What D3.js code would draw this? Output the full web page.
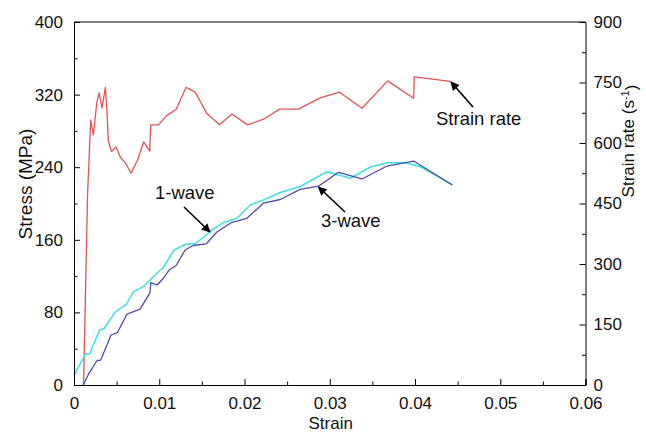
<!DOCTYPE html>
<html>
<head>
<meta charset="utf-8">
<script src="https://cdn.jsdelivr.net/npm/d3@7/dist/d3.min.js"></script>
<style>
  html, body { margin: 0; padding: 0; background: #fff; }
  svg { display: block; font-family: "Liberation Sans", Arial, Helvetica, sans-serif; }
</style>
</head>
<body>
<svg id="chart" width="646" height="433"></svg>
<script>
// Strain rate history (right axis, s^-1) versus strain
const strainRateStrain = [0.00112, 0.00159, 0.00196, 0.00227, 0.00267, 0.00294, 0.00329, 0.00368, 0.00387, 0.00403,
  0.0044, 0.00493, 0.00546, 0.00605, 0.00669, 0.00746, 0.00818, 0.00889, 0.009, 0.00992,
  0.01092, 0.01198, 0.01315, 0.01421, 0.01556, 0.01706, 0.01852, 0.02037, 0.02223, 0.0241,
  0.02634, 0.02888, 0.03115, 0.03378, 0.03679, 0.03984, 0.03992, 0.04415];
const strainRateValues = [0, 471, 657, 620, 699, 724, 687, 738, 679, 605,
  579, 590, 564, 550, 525, 558, 603, 580, 645, 645,
  669, 683, 738, 726, 674, 645, 672, 645, 659, 684,
  684, 712, 726, 686, 754, 711, 764, 753];

// 1-wave stress-strain curve (left axis, MPa)
const oneWaveStrain = [0, 0.00135, 0.00182, 0.003, 0.00352, 0.00487, 0.00611, 0.00699, 0.00816, 0.00916,
  0.01045, 0.01174, 0.01303, 0.01421, 0.01518, 0.01617, 0.01753, 0.01911, 0.02066, 0.02223,
  0.02419, 0.02654, 0.02967, 0.03241, 0.03476, 0.03672, 0.03887, 0.04063, 0.04259, 0.04438];
const oneWaveStress = [11.0, 34.2, 34.2, 60.6, 62.3, 80.8, 88.7, 102.8, 108.5, 117.9,
  129.5, 148.8, 154.8, 155.9, 162.8, 170.8, 178.8, 183.7, 198.3, 203.9,
  212.1, 218.7, 235.0, 227.8, 240.2, 245.0, 245.0, 240.5, 230.3, 220.4];

// 3-wave stress-strain curve (left axis, MPa)
const threeWaveStrain = [0.00109, 0.00176, 0.0027, 0.00314, 0.00434, 0.00508, 0.00622, 0.00775, 0.00892, 0.009,
  0.00975, 0.01051, 0.01115, 0.01198, 0.01303, 0.01397, 0.0155, 0.01676, 0.01843, 0.02028,
  0.02223, 0.02419, 0.02654, 0.02868, 0.03103, 0.03378, 0.03672, 0.03887, 0.03984, 0.04438];
const threeWaveStress = [0, 12.9, 27.0, 27.5, 55.1, 57.6, 78.2, 83.7, 101.7, 112.7,
  110.2, 117.9, 126.7, 131.7, 148.8, 153.7, 155.4, 168.6, 178.8, 183.7,
  200.5, 204.4, 215.6, 219.1, 234.4, 227.0, 241.3, 245.0, 246.8, 220.4];

// Axis ticks
const strainTicks = [0, 0.01, 0.02, 0.03, 0.04, 0.05, 0.06];
const strainMinorTicks = [0.005, 0.015, 0.025, 0.035, 0.045, 0.055];
const stressTicks = [0, 80, 160, 240, 320, 400];
const stressMinorTicks = [40, 120, 200, 280, 360];
const rateTicks = [0, 150, 300, 450, 600, 750, 900];
const rateMinorTicks = [75, 225, 375, 525, 675, 825];

const svg = d3.select("#chart");
const plotLeft = 74, plotRight = 585.5, plotTop = 22, plotBottom = 385;

const x = d3.scaleLinear().domain([0, 0.06]).range([plotLeft, plotRight]);
const yStress = d3.scaleLinear().domain([0, 400]).range([plotBottom, plotTop]);
const yRate = d3.scaleLinear().domain([0, 900]).range([plotBottom, plotTop]);

const tickFont = "17px";

// Arrowhead marker
svg.append("defs").append("marker")
  .attr("id", "head")
  .attr("viewBox", "0 0 10 10")
  .attr("refX", 9).attr("refY", 5)
  .attr("markerWidth", 9).attr("markerHeight", 9)
  .attr("markerUnits", "userSpaceOnUse")
  .attr("orient", "auto")
  .append("path").attr("d", "M0,0 L10,5 L0,10 Z").attr("fill", "#000");

// Series lines
const pairs = (xs, ys) => xs.map((v, i) => [v, ys[i]]);

svg.append("path")
  .datum(pairs(strainRateStrain, strainRateValues))
  .attr("fill", "none").attr("stroke", "#e25454").attr("stroke-width", 1.3)
  .attr("stroke-linejoin", "round")
  .attr("d", d3.line().x(d => x(d[0])).y(d => yRate(d[1])));

svg.append("path")
  .datum(pairs(oneWaveStrain, oneWaveStress))
  .attr("fill", "none").attr("stroke", "#3fe0e2").attr("stroke-width", 1.5)
  .attr("stroke-linejoin", "round")
  .attr("d", d3.line().x(d => x(d[0])).y(d => yStress(d[1])));

svg.append("path")
  .datum(pairs(threeWaveStrain, threeWaveStress))
  .attr("fill", "none").attr("stroke", "#4f4caa").attr("stroke-width", 1.3)
  .attr("stroke-linejoin", "round")
  .attr("d", d3.line().x(d => x(d[0])).y(d => yStress(d[1])));

// Frame
svg.append("line").attr("x1", plotLeft).attr("x2", plotRight).attr("y1", plotTop).attr("y2", plotTop)
  .attr("stroke", "#000").attr("stroke-width", 1);

function styleAxis(g) {
  g.select(".domain").attr("stroke", "#000").attr("stroke-width", 1);
  g.selectAll(".tick line").attr("stroke", "#000");
  g.selectAll("text").attr("font-size", tickFont).attr("fill", "#111")
    .attr("font-family", "'Liberation Sans', Arial, sans-serif");
}

// Bottom axis (inward ticks)
svg.append("g").attr("transform", `translate(0,${plotBottom})`)
  .call(d3.axisBottom(x).tickValues(strainTicks).tickSize(-6).tickPadding(12)
    .tickFormat(d => d === 0 ? "0" : d.toFixed(2)))
  .call(styleAxis);
svg.append("g").attr("transform", `translate(0,${plotBottom})`)
  .call(d3.axisBottom(x).tickValues(strainMinorTicks).tickSize(-3.5).tickFormat(""))
  .call(g => g.select(".domain").remove())
  .call(g => g.selectAll(".tick line").attr("stroke", "#000"));

// Left axis
svg.append("g").attr("transform", `translate(${plotLeft},0)`)
  .call(d3.axisLeft(yStress).tickValues(stressTicks).tickSize(-6).tickPadding(11))
  .call(styleAxis);
svg.append("g").attr("transform", `translate(${plotLeft},0)`)
  .call(d3.axisLeft(yStress).tickValues(stressMinorTicks).tickSize(-3.5).tickFormat(""))
  .call(g => g.select(".domain").remove())
  .call(g => g.selectAll(".tick line").attr("stroke", "#000"));

// Right axis
svg.append("g").attr("transform", `translate(${plotRight},0)`)
  .call(d3.axisRight(yRate).tickValues(rateTicks).tickSize(-6).tickPadding(8))
  .call(styleAxis);
svg.append("g").attr("transform", `translate(${plotRight},0)`)
  .call(d3.axisRight(yRate).tickValues(rateMinorTicks).tickSize(-3.5).tickFormat(""))
  .call(g => g.select(".domain").remove())
  .call(g => g.selectAll(".tick line").attr("stroke", "#000"));

// Axis titles
svg.append("text").attr("x", (plotLeft + plotRight) / 2 + 1).attr("y", 429)
  .attr("text-anchor", "middle").attr("font-size", "17px").attr("fill", "#111")
  .text("Strain");

svg.append("text")
  .attr("transform", `translate(32,184) rotate(-90)`)
  .attr("text-anchor", "middle").attr("font-size", "19px").attr("fill", "#111")
  .text("Stress (MPa)");

const rt = svg.append("text")
  .attr("transform", `translate(634,141) rotate(-90)`)
  .attr("text-anchor", "middle").attr("font-size", "17px").attr("fill", "#111");
rt.append("tspan").text("Strain rate (s");
rt.append("tspan").attr("dy", "-0.45em").attr("font-size", "11px").text("-1");
rt.append("tspan").attr("dy", "0.45em").text(")");

// Annotations with arrows
const notes = [
  { text: "Strain rate", tx: 436, ty: 125, x1: 473, y1: 107, x2: 451, y2: 82 },
  { text: "1-wave", tx: 155, ty: 199, x1: 184, y1: 207, x2: 210, y2: 232 },
  { text: "3-wave", tx: 321, ty: 227, x1: 345, y1: 212, x2: 318.5, y2: 187 }
];
notes.forEach(n => {
  svg.append("line").attr("x1", n.x1).attr("y1", n.y1).attr("x2", n.x2).attr("y2", n.y2)
    .attr("stroke", "#000").attr("stroke-width", 1.6).attr("marker-end", "url(#head)");
  svg.append("text").attr("x", n.tx).attr("y", n.ty).attr("font-size", "18.5px")
    .attr("fill", "#111").text(n.text);
});
</script>
</body>
</html>
